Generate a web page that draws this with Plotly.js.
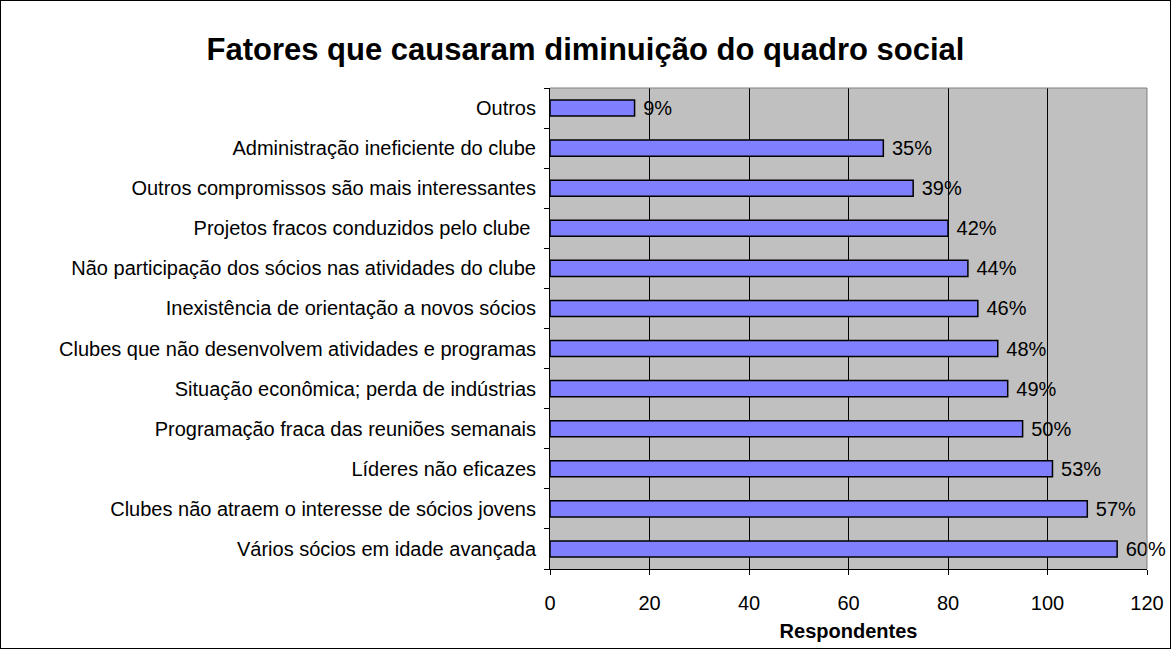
<!DOCTYPE html>
<html>
<head>
<meta charset="utf-8">
<script src="https://cdn.plot.ly/plotly-3.0.1.min.js"></script>
<style>
html,body{margin:0;padding:0;background:#fff;}
#chart{width:1171px;height:649px;box-sizing:border-box;border:1px solid #000;}
</style>
</head>
<body>
<div id="chart"></div>
<script>
// categories listed bottom to top
var categories = [
  "Vários sócios em idade avançada",
  "Clubes não atraem o interesse de sócios jovens",
  "Líderes não eficazes",
  "Programação fraca das reuniões semanais",
  "Situação econômica; perda de indústrias",
  "Clubes que não desenvolvem atividades e programas",
  "Inexistência de orientação a novos sócios",
  "Não participação dos sócios nas atividades do clube",
  "Projetos fracos conduzidos pelo clube ",
  "Outros compromissos são mais interessantes",
  "Administração ineficiente do clube",
  "Outros"
];
var respondentes = [114, 108, 101, 95, 92, 90, 86, 84, 80, 73, 67, 17];
var percentLabels = ["60%", "57%", "53%", "50%", "49%", "48%", "46%", "44%", "42%", "39%", "35%", "9%"];
var xTicks = [0, 20, 40, 60, 80, 100, 120];

var FONT = "Liberation Sans, Arial, sans-serif";

var trace = {
  type: "bar",
  orientation: "h",
  y: categories,
  x: respondentes,
  text: percentLabels,
  texttemplate: " %{text}",
  textposition: "outside",
  constraintext: "none",
  textfont: {family: FONT, size: 20, color: "#000"},
  cliponaxis: false,
  width: 0.4,
  marker: {color: "#8080FF", line: {color: "#000", width: 1.5}},
  hoverinfo: "none"
};

var layout = {
  width: 1169,
  height: 647,
  margin: {l: 549, r: 23, t: 87, b: 79, pad: 0},
  paper_bgcolor: "#fff",
  plot_bgcolor: "#C0C0C0",
  showlegend: false,
  font: {family: FONT, size: 20, color: "#000"},
  title: {
    text: "<b>Fatores que causaram diminuição do quadro social</b>",
    font: {family: FONT, size: 31, color: "#000"},
    x: 0.5, xanchor: "center", xref: "container",
    y: 0.925, yanchor: "middle", yref: "container"
  },
  xaxis: {
    range: [0, 120],
    tickvals: xTicks,
    ticktext: xTicks.map(String),
    showgrid: true,
    gridcolor: "#000",
    gridwidth: 1,
    zeroline: false,
    showline: true,
    linecolor: "#000",
    linewidth: 1,
    ticks: "outside",
    ticklen: 5,
    tickcolor: "#000",
    tickfont: {size: 20},
    ticklabelstandoff: 11,
    title: {text: "<b>Respondentes</b>", font: {size: 20}, standoff: 10},
    fixedrange: true
  },
  yaxis: {
    type: "category",
    categoryorder: "array",
    categoryarray: categories,
    tickson: "boundaries",
    ticks: "outside",
    ticklen: 5,
    tickcolor: "#000",
    showgrid: false,
    showline: true,
    linecolor: "#000",
    linewidth: 1,
    tickfont: {size: 20},
    ticklabelstandoff: 9,
    fixedrange: true
  },
  bargap: 0.6,
  shapes: [
    {type: "line", xref: "paper", yref: "paper", x0: 0, x1: 1, y0: 1, y1: 1, line: {color: "#808080", width: 1}, layer: "above"},
    {type: "line", xref: "paper", yref: "paper", x0: 1, x1: 1, y0: 0, y1: 1, line: {color: "#808080", width: 1}, layer: "above"}
  ]
};

Plotly.newPlot("chart", [trace], layout, {displayModeBar: false, staticPlot: true});
</script>
</body>
</html>
